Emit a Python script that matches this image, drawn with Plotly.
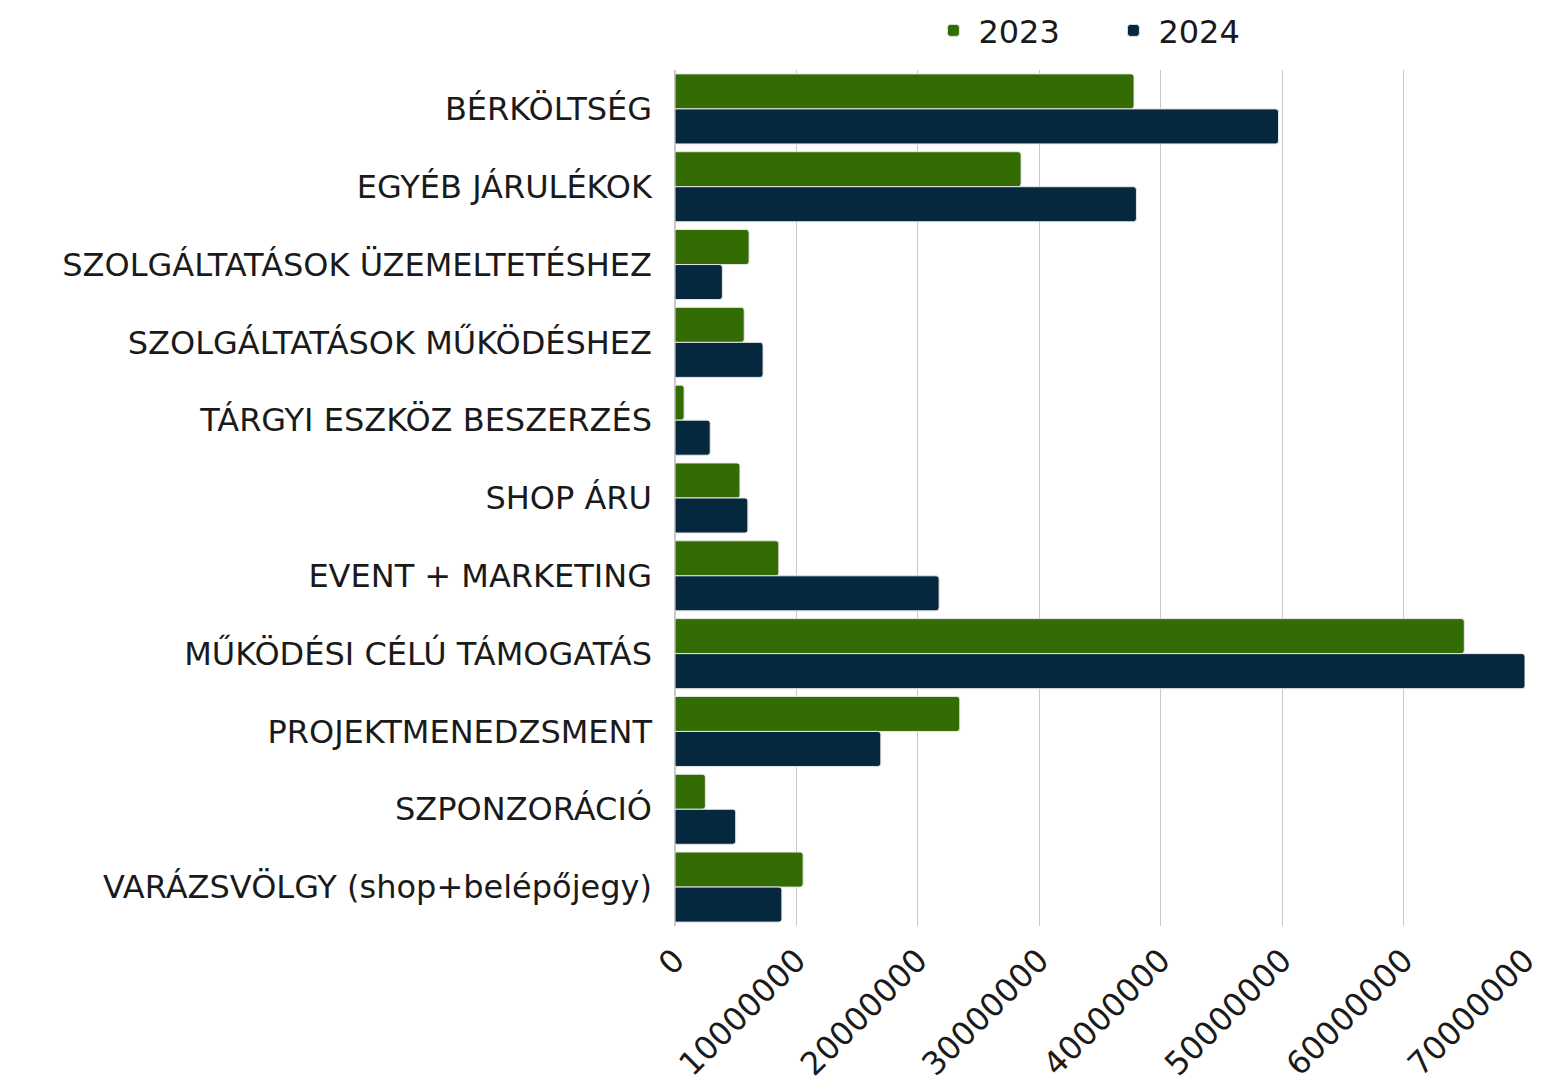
import plotly.graph_objects as go

categories = [
    "BÉRKÖLTSÉG",
    "EGYÉB JÁRULÉKOK",
    "SZOLGÁLTATÁSOK ÜZEMELTETÉSHEZ",
    "SZOLGÁLTATÁSOK MŰKÖDÉSHEZ",
    "TÁRGYI ESZKÖZ BESZERZÉS",
    "SHOP ÁRU",
    "EVENT + MARKETING",
    "MŰKÖDÉSI CÉLÚ TÁMOGATÁS",
    "PROJEKTMENEDZSMENT",
    "SZPONZORÁCIÓ",
    "VARÁZSVÖLGY (shop+belépőjegy)",
]
values_2023 = [37800000, 28500000, 6100000, 5700000, 750000, 5350000,
               8550000, 65000000, 23450000, 2500000, 10550000]
values_2024 = [49700000, 38000000, 3900000, 7250000, 2900000, 6000000,
               21750000, 70000000, 16950000, 5000000, 8800000]
tick_vals = [0, 10000000, 20000000, 30000000, 40000000, 50000000, 60000000, 70000000]
tick_text = ["0", "10000000", "20000000", "30000000", "40000000", "50000000", "60000000", "70000000"]

FONT = "DejaVu Sans"

fig = go.Figure()
fig.add_trace(go.Bar(
    name="2023", y=categories, x=values_2023, orientation="h",
    marker=dict(color="#336c03", line=dict(color="#e6e6e6", width=1), cornerradius=3),
))
fig.add_trace(go.Bar(
    name="2024", y=categories, x=values_2024, orientation="h",
    marker=dict(color="#06283f", line=dict(color="#e6e6e6", width=1), cornerradius=3),
))

fig.update_layout(
    width=1534, height=1075,
    barmode="group", bargap=0.1, bargroupgap=0.0,
    plot_bgcolor="white", paper_bgcolor="white",
    margin=dict(l=667, r=17, t=62, b=157, autoexpand=False),
    font=dict(family=FONT, size=32, color="#1a1a1a"),
    legend=dict(orientation="h", x=0.600, xanchor="left", xref="container",
                y=0.979, yanchor="middle", yref="container",
                font=dict(size=32), itemwidth=40, entrywidth=125, traceorder="normal"),
    showlegend=True,
)
fig.update_yaxes(autorange="reversed", ticks="", ticklabelstandoff=22, showgrid=False,
                 automargin=False)
fig.update_xaxes(range=[0, 70000000], tickvals=tick_vals, ticktext=tick_text,
                 tickangle=-45, showgrid=True, gridcolor="#c8c8c8", gridwidth=1,
                 zeroline=True, zerolinecolor="#c8c8c8", ticks="", automargin=False,
                 ticklabelstandoff=8)

fig.write_html("out.html")
